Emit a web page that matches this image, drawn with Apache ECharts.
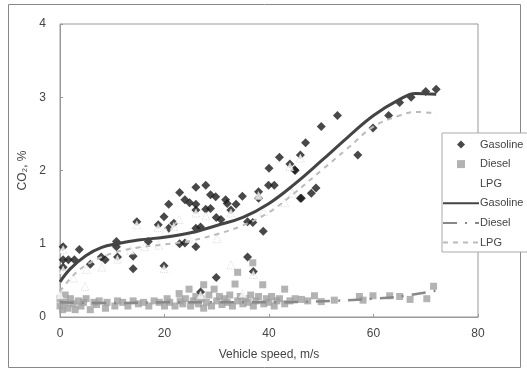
<!DOCTYPE html>
<html><head><meta charset="utf-8">
<script src="https://cdn.jsdelivr.net/npm/echarts@6/dist/echarts.min.js"></script>
<style>html,body{margin:0;padding:0;background:#fff}#c{width:527px;height:376px}</style>
</head><body><div id="c"></div>
<script>
const xTicks = [0, 20, 40, 60, 80];
const yTicks = [0, 1, 2, 3, 4];

const gasolinePts = [[0.6,0.96],[0.6,0.78],[0.6,0.68],[1.6,0.78],[2.75,0.78],[3.7,0.92],[5.8,0.72],[7.9,0.82],[8.65,0.78],[10.8,1.03],[10.8,0.96],[11,0.82],[14,0.83],[14,0.66],[14.7,1.30],[16.9,1.03],[18.8,1.26],[19.9,0.70],[19.9,1.37],[20.8,1.54],[20.8,1.21],[21.8,1.28],[22.9,1.70],[22.9,1.0],[23.9,1.01],[23.9,1.60],[24.8,1.56],[26,1.54],[26,1.46],[26,1.77],[27.9,1.80],[28.8,1.67],[29.8,1.64],[27.9,1.47],[28.8,1.48],[31.7,1.60],[32,1.55],[32.7,1.46],[33.7,1.54],[34.9,1.65],[38,1.71],[38,1.62],[40,2.03],[42,2.18],[39.9,1.80],[41,1.80],[44,2.09],[44.9,2.01],[46,1.62],[47,2.38],[29.9,1.36],[30.8,1.33],[26,1.21],[26.9,1.23],[35.9,1.30],[36.9,1.29],[38.9,1.17],[26,0.96],[35.9,0.82],[29.9,0.54],[26.9,0.34],[37,0.62],[72,3.11],[70,3.08],[67.2,3.0],[65,2.93],[62.9,2.75],[59.9,2.58],[57,2.21],[53.1,2.75],[50,2.60],[45,2.0],[49,1.76],[48.1,1.69],[46,2.21],[46.2,1.62]];

const dieselPts = [[0,0.25],[0,0.15],[0.5,0.1],[1,0.3],[1,0.2],[1.5,0.12],[2,0.25],[2.5,0.18],[2.9,0.1],[3.5,0.22],[4,0.15],[4.5,0.2],[5,0.25],[5.8,0.1],[6.5,0.2],[7,0.17],[7.5,0.22],[8.7,0.12],[9,0.2],[10.5,0.15],[11,0.22],[12,0.2],[13,0.15],[14,0.22],[15,0.18],[16,0.2],[17,0.15],[18,0.22],[19,0.2],[20,0.15],[20.5,0.25],[21,0.2],[22,0.15],[22.8,0.32],[23,0.22],[23.5,0.18],[24,0.25],[24.7,0.38],[25,0.15],[25.5,0.22],[26,0.28],[26.5,0.18],[27,0.25],[27.5,0.44],[27.5,0.12],[28,0.2],[28.5,0.3],[29,0.15],[29.5,0.38],[30,0.22],[30.5,0.28],[31,0.17],[31.5,0.25],[32,0.2],[32.5,0.3],[33,0.15],[33.5,0.45],[34,0.61],[34,0.22],[34.5,0.28],[35,0.18],[35.5,0.25],[36,0.2],[36.5,0.3],[36.9,0.74],[37,0.15],[37.5,0.22],[38,0.28],[38.8,0.44],[39,0.18],[39.5,0.25],[40,0.2],[40.5,0.28],[41,0.15],[41.5,0.22],[42,0.25],[43,0.38],[43,0.18],[44,0.22],[45,0.25],[46.2,0.24],[47.4,0.22],[48.7,0.29],[50,0.21],[52.5,0.23],[57.3,0.28],[58,0.23],[59.9,0.29],[63.1,0.29],[65,0.28],[67,0.24],[70.2,0.25],[71.5,0.42]];

const lpgPts = [[0,0.3],[0.6,0.64],[0.6,0.92],[2.6,0.53],[4.8,0.42],[5.1,0.65],[8,0.68],[11,0.79],[13.5,0.91],[14.7,1.26],[16.2,0.96],[18.8,1.22],[18.9,0.98],[19.9,0.66],[20.2,1.17],[21.8,1.24],[22.8,1.33],[24.7,1.07],[26,1.42],[27.9,1.38],[30.1,1.07],[32.7,1.42],[32.7,0.71],[35,0.32],[26.9,0.3],[37,0.58],[38,1.66],[39,1.44],[43,1.56],[44,2.05],[44.5,1.69],[46,2.17]];

const gasolineFitX = [0, 2, 5, 8, 11, 15, 20, 25, 30, 35, 40, 45, 50, 55, 60, 65, 68, 72];
const gasolineFitY = [0.48, 0.66, 0.84, 0.95, 1.0, 1.05, 1.09, 1.15, 1.25, 1.36, 1.55, 1.82, 2.13, 2.45, 2.75, 2.97, 3.05, 3.04];
const dieselFitX = [0, 10, 20, 30, 40, 52, 60, 65, 72];
const dieselFitY = [0.2, 0.19, 0.2, 0.2, 0.2, 0.22, 0.25, 0.28, 0.36];
const lpgFitX = [0, 3, 6, 10, 15, 20, 25, 30, 35, 40, 45, 50, 55, 60, 65, 68, 72];
const lpgFitY = [0.35, 0.6, 0.75, 0.87, 0.95, 0.99, 1.04, 1.13, 1.25, 1.43, 1.70, 2.0, 2.3, 2.6, 2.75, 2.8, 2.78];

const zip = (xs, ys) => xs.map((x, i) => [x, ys[i]]);
const chart = echarts.init(document.getElementById('c'));
const font = 'Liberation Sans, Arial, sans-serif';
const hideDot = {opacity: 0};
chart.setOption({
  animation: false,
  backgroundColor: '#fff',
  graphic: [{type: 'rect', shape: {x: 8.5, y: 4.5, width: 512, height: 363}, style: {fill: 'none', stroke: '#888', lineWidth: 1}, silent: true}],
  grid: {left: 60, right: 49, top: 24, bottom: 59, show: true, borderColor: '#999', borderWidth: 1},
  legend: {
    orient: 'vertical', left: 442, top: 133,
    data: [
      {name: 'Gasoline', icon: 'path://M5,0L10,5L5,10L0,5Z'},
      {name: 'Diesel', icon: 'path://M0,0H10V10H0Z'},
      {name: 'LPG', icon: 'path://M5,0L10,10L0,10Z', itemStyle: hideDot},
      {name: 'Gasoline ', itemStyle: hideDot},
      {name: 'Diesel ', itemStyle: hideDot},
      {name: 'LPG ', itemStyle: hideDot}
    ],
    symbolKeepAspect: true,
    itemWidth: 36, itemHeight: 8, itemGap: 8.6,
    padding: [6, 6, 4, 0],
    borderColor: '#aaa', borderWidth: 1, backgroundColor: '#fff',
    textStyle: {fontFamily: font, fontSize: 11, color: '#444', padding: [0, 0, 0, -4]}
  },
  xAxis: {
    type: 'value', min: 0, max: 80, interval: 20,
    name: 'Vehicle speed, m/s', nameLocation: 'middle', nameGap: 32,
    nameTextStyle: {fontFamily: font, fontSize: 12, color: '#444'},
    axisLine: {lineStyle: {color: '#999'}},
    axisTick: {inside: true, length: 3, lineStyle: {color: '#999'}},
    axisLabel: {fontFamily: font, fontSize: 12, color: '#444', margin: 11,
      formatter: v => xTicks.includes(v) ? String(v) : ''},
    splitLine: {show: false}
  },
  yAxis: {
    type: 'value', min: 0, max: 4, interval: 1,
    name: 'CO₂, %', nameLocation: 'middle', nameGap: 30,
    nameTextStyle: {fontFamily: font, fontSize: 12, color: '#444'},
    axisLine: {show: true, lineStyle: {color: '#999'}},
    axisTick: {show: true, inside: true, length: 3, lineStyle: {color: '#999'}},
    axisLabel: {fontFamily: font, fontSize: 12, color: '#444', margin: 14,
      formatter: v => yTicks.includes(v) ? String(v) : ''},
    splitLine: {show: false}
  },
  series: [
    {name: 'Diesel', type: 'scatter', symbol: 'rect', symbolSize: 7, data: dieselPts,
      itemStyle: {color: '#a0a0a0'}, z: 2},
    {name: 'Gasoline', type: 'scatter', symbol: 'diamond', symbolSize: 9, data: gasolinePts,
      itemStyle: {color: '#1a1a1a'}, z: 2},
    {name: 'LPG', type: 'scatter', symbol: 'triangle', symbolSize: 8, data: lpgPts,
      itemStyle: {color: '#fff', borderColor: '#d4d4d4', borderWidth: 1, borderType: 'dotted'}, z: 2},
    {name: 'Gasoline ', type: 'line', smooth: 0.4, symbol: 'none', data: zip(gasolineFitX, gasolineFitY),
      lineStyle: {color: '#444', width: 3}, itemStyle: {color: '#444'}, z: 3},
    {name: 'Diesel ', type: 'line', smooth: 0.4, symbol: 'none', data: zip(dieselFitX, dieselFitY),
      lineStyle: {color: '#888', width: 2.5, type: [14, 8, 2, 8]}, itemStyle: {color: '#888'}, z: 3},
    {name: 'LPG ', type: 'line', smooth: 0.4, symbol: 'none', data: zip(lpgFitX, lpgFitY),
      lineStyle: {color: '#bbb', width: 2, type: [5, 5]}, itemStyle: {color: '#bbb'}, z: 3}
  ]
});
</script></body></html>
